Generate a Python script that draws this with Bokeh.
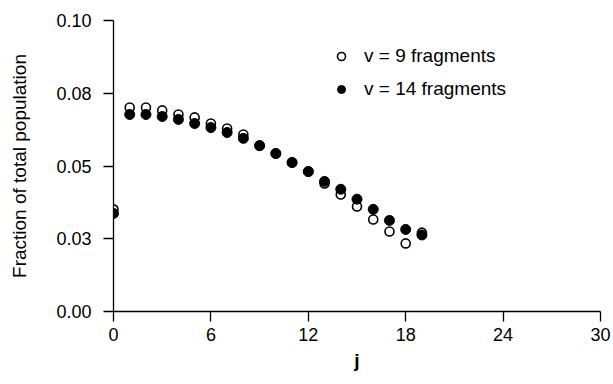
from bokeh.plotting import figure
from bokeh.models import (ColumnDataSource, FixedTicker, CustomJSTickFormatter,
                          Legend, LegendItem, Range1d)
from bokeh.embed import file_html
from bokeh.resources import INLINE

# ---- data ----
j_values = list(range(20))
frac_v9 = [0.0351, 0.0701, 0.0701, 0.0691, 0.0677, 0.0667, 0.0646, 0.0629,
           0.0608, 0.0570, 0.0543, 0.0512, 0.0481, 0.0440, 0.0402, 0.0361,
           0.0316, 0.0275, 0.0234, 0.0271]
frac_v14 = [0.0337, 0.0677, 0.0677, 0.0670, 0.0660, 0.0646, 0.0632, 0.0615,
            0.0595, 0.0570, 0.0543, 0.0512, 0.0481, 0.0447, 0.0420, 0.0386,
            0.0351, 0.0313, 0.0282, 0.0263]
series_labels = ["v = 9 fragments", "v = 14 fragments"]
x_ticks = [0, 6, 12, 18, 24, 30]
y_ticks = [0.0, 0.025, 0.05, 0.075, 0.10]
y_tick_labels = ["0.00", "0.03", "0.05", "0.08", "0.10"]

FONT = "Liberation Sans"

p = figure(width=613, height=384, output_backend="svg", toolbar_location=None,
           x_range=Range1d(0, 30), y_range=Range1d(0, 0.10),
           min_border_left=113, min_border_right=13, min_border_top=20,
           min_border_bottom=73)
p.outline_line_color = None
p.xgrid.visible = False
p.ygrid.visible = False
p.background_fill_color = "white"
p.border_fill_color = "white"

src = ColumnDataSource(dict(j=j_values, v9=frac_v9, v14=frac_v14))
r9 = p.scatter("j", "v9", source=src, marker="circle", size=9,
               fill_color="white", line_color="black", line_width=1.6)
r14 = p.scatter("j", "v14", source=src, marker="circle", size=10,
                fill_color="black", line_color="black", line_width=1)

# axes
for ax in (p.xaxis[0], p.yaxis[0]):
    ax.axis_line_color = "black"
    ax.axis_line_width = 1.3
    ax.major_tick_line_width = 1.3
    ax.major_tick_in = 0
    ax.major_tick_out = 10
    ax.minor_tick_line_color = None
    ax.major_label_text_font = FONT
    ax.major_label_text_font_size = "18px"
    ax.major_label_text_color = "black"
    ax.axis_label_text_font = FONT
    ax.axis_label_text_font_style = "normal"
    ax.axis_label_text_color = "black"

p.xaxis[0].ticker = FixedTicker(ticks=x_ticks)
p.xaxis[0].major_label_standoff = 6
p.xaxis[0].axis_label = "j"
p.xaxis[0].axis_label_text_font_size = "19px"
p.xaxis[0].axis_label_text_font_style = "bold"
p.xaxis[0].axis_label_standoff = 6

p.yaxis[0].ticker = FixedTicker(ticks=y_ticks)
p.yaxis[0].formatter = CustomJSTickFormatter(args=dict(labels=y_tick_labels),
                                             code="return labels[index];")
p.yaxis[0].major_label_standoff = 12
p.yaxis[0].axis_label = "Fraction of total population"
p.yaxis[0].axis_label_text_font_size = "19px"
p.yaxis[0].axis_label_standoff = 23

legend = Legend(items=[LegendItem(label=series_labels[0], renderers=[r9]),
                       LegendItem(label=series_labels[1], renderers=[r14])],
                location=(218, 211), border_line_color=None,
                background_fill_alpha=0, padding=10, spacing=11,
                glyph_width=20, glyph_height=20, label_height=20,
                label_standoff=13, label_text_font=FONT,
                label_text_font_size="19px", label_text_color="black")
p.add_layout(legend, "center")

open("out.html", "w").write(file_html(p, INLINE))
